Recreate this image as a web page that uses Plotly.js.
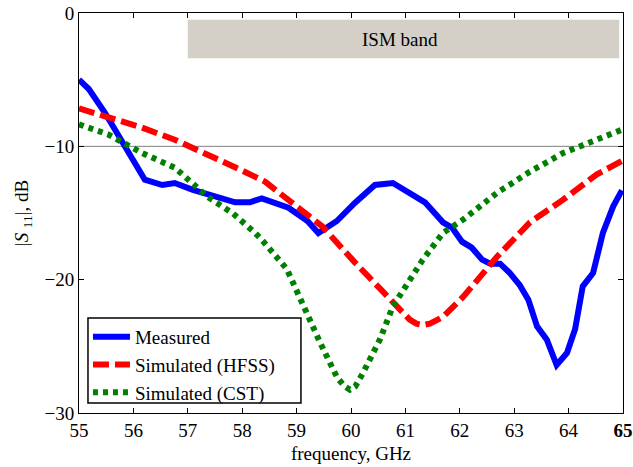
<!DOCTYPE html>
<html>
<head>
<meta charset="utf-8">
<script src="https://cdn.plot.ly/plotly-3.0.1.min.js"></script>
<style>html,body{margin:0;padding:0;background:#fff;}#chart{width:633px;height:467px;}</style>
</head>
<body>
<div id="chart"></div>
<script>
// Measured |S11| (dB)
const measFreq = [55, 55.18, 55.48, 55.85, 56.21, 56.53, 56.76, 57.08, 57.37, 57.63, 57.87, 58.14, 58.36, 58.85, 59.2, 59.4, 59.74, 60.07, 60.44, 60.77, 61.36, 61.69, 61.86, 62.04, 62.22, 62.41, 62.56, 62.74, 62.92, 63.1, 63.26, 63.42, 63.6, 63.78, 63.97, 64.12, 64.26, 64.45, 64.63, 64.82, 64.98];
const measS11 = [-5.0, -5.7, -7.5, -10.0, -12.5, -12.9, -12.75, -13.25, -13.6, -14.0, -14.2, -14.2, -13.9, -14.6, -15.6, -16.5, -15.6, -14.25, -12.9, -12.75, -14.2, -15.7, -16.1, -17.15, -17.6, -18.5, -18.8, -18.8, -19.5, -20.4, -21.5, -23.5, -24.5, -26.4, -25.5, -23.7, -20.5, -19.5, -16.5, -14.5, -13.3];
// Simulated (HFSS)
const hfssFreq = [55, 55.53, 56.16, 56.76, 57.37, 57.99, 58.42, 58.85, 59.47, 60.07, 60.68, 60.9, 61.08, 61.2, 61.32, 61.45, 61.69, 62.06, 62.68, 63.29, 63.9, 64.52, 64.98];
const hfssS11 = [-7.15, -7.8, -8.6, -9.5, -10.6, -11.8, -12.65, -14.0, -16.0, -18.7, -21.3, -22.3, -23.0, -23.3, -23.4, -23.3, -22.8, -21.3, -18.3, -15.7, -14.0, -12.1, -11.1];
// Simulated (CST)
const cstFreq = [55, 55.53, 56.16, 56.76, 57.37, 57.82, 58.24, 58.38, 58.82, 59.12, 59.43, 59.74, 59.88, 59.98, 60.08, 60.22, 60.53, 60.77, 61.03, 61.32, 61.69, 62.06, 62.68, 63.29, 63.9, 64.52, 64.98];
const cstS11 = [-8.35, -9.1, -10.5, -11.6, -13.8, -15.0, -16.5, -17.1, -19.2, -22.0, -24.7, -27.3, -28.0, -28.25, -28.0, -27.0, -24.5, -22.0, -20.3, -18.5, -16.5, -15.5, -13.5, -11.9, -10.5, -9.5, -8.75];
// Axis ticks
const xTickVals = [55, 56, 57, 58, 59, 60, 61, 62, 63, 64, 65];
const xTickText = ['55', '56', '57', '58', '59', '60', '61', '62', '63', '64', '<b>65</b>'];
const yTickVals = [0, -10, -20, -30];
// ISM band
const ismBand = {f0: 57, f1: 64.93, top: -0.5, bottom: -3.4, label: 'ISM band', labelF: 60.9, labelY: -1.95};
const refLevel = -10;

const font = 'Liberation Serif';
const fs = 19;
const traces = [
  {x: measFreq, y: measS11, mode: 'lines', name: 'Measured', line: {color: '#0000ff', width: 6}},
  {x: hfssFreq, y: hfssS11, mode: 'lines', name: 'Simulated (HFSS)', line: {color: '#ff0000', width: 6, dash: '16px,6px'}},
  {x: cstFreq, y: cstS11, mode: 'lines', name: 'Simulated (CST)', line: {color: '#008000', width: 6, dash: '5px,5px'}}
];
const layout = {
  width: 633, height: 467,
  margin: {l: 79, r: 10, t: 13, b: 54},
  paper_bgcolor: '#fff', plot_bgcolor: '#fff',
  font: {family: font, size: fs, color: '#000'},
  showlegend: true,
  legend: {x: 0.0165, y: 0.2375, xanchor: 'left', yanchor: 'top', borderwidth: 0, bgcolor: 'rgba(0,0,0,0)', font: {family: font, size: fs}, tracegroupgap: 0, itemwidth: 37},
  xaxis: {range: [55, 65], tickvals: xTickVals, ticktext: xTickText, ticks: 'inside', ticklen: 5, tickcolor: '#000', showline: true, linecolor: '#000', linewidth: 1, mirror: 'ticks', showgrid: false, zeroline: false,
    tickfont: {family: font, size: fs},
    title: {text: 'frequency, GHz', font: {family: font, size: fs}, standoff: 6}},
  yaxis: {range: [-30, 0], tickvals: yTickVals, ticks: 'inside', ticklen: 5, tickcolor: '#000', showline: true, linecolor: '#000', linewidth: 1, mirror: 'ticks', showgrid: false, zeroline: false,
    tickfont: {family: font, size: fs},
    title: {text: '|<i>S</i> <sub>11</sub>|, dB', font: {family: font, size: fs}, standoff: 10}},
  shapes: [
    {type: 'rect', xref: 'x', yref: 'y', x0: ismBand.f0, x1: ismBand.f1, y0: ismBand.bottom, y1: ismBand.top, fillcolor: '#d4d0c8', line: {width: 0}, layer: 'below'},
    {type: 'line', xref: 'paper', yref: 'y', x0: 0, x1: 1, y0: refLevel, y1: refLevel, line: {color: '#808080', width: 1}, layer: 'below'},
    {type: 'rect', xref: 'paper', yref: 'paper', x0: 0.0165, x1: 0.408, y0: 0.025, y1: 0.2375, fillcolor: '#fff', line: {color: '#000', width: 1.5}, layer: 'above'}
  ],
  annotations: [
    {xref: 'x', yref: 'y', x: ismBand.labelF, y: ismBand.labelY, text: ismBand.label, showarrow: false, font: {family: font, size: fs, color: '#000'}}
  ]
};
Plotly.newPlot('chart', traces, layout, {displayModeBar: false, staticPlot: true});
</script>
</body>
</html>
